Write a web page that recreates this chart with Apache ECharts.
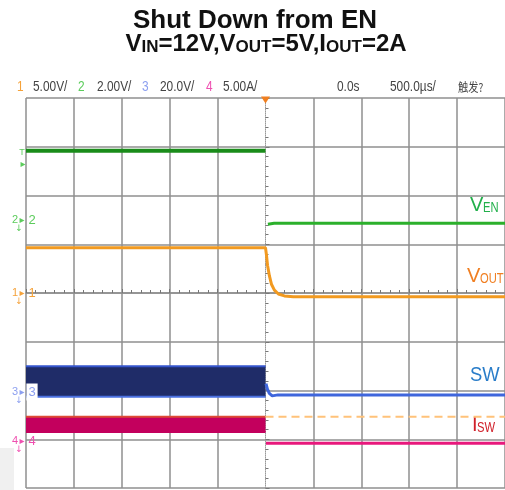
<!DOCTYPE html>
<html>
<head>
<meta charset="utf-8">
<title>Shut Down from EN</title>
<script src="https://cdn.jsdelivr.net/npm/echarts@6.0.0/dist/echarts.min.js"></script>
<style>
    html, body { margin: 0; padding: 0; background: #fff; }
    #scope { width: 505px; height: 490px; }
</style>
</head>
<body>
<div id="scope"></div>
<script>
// time in us (500us/div, trigger at 0), vertical in scope divisions (0 = screen centre)
var timeMin = -2500, timeMax = 2500, timeDiv = 500;
var divMin = -4, divMax = 4;

// channel header: [channel, scale]
var chScales = [['1', '5.00V/'], ['2', '2.00V/'], ['3', '20.0V/'], ['4', '5.00A/']];
var timeLabels = ['0.0s', '500.0\u00b5s/', '触发?'];

// CH2 EN
var enBefore = [[-2500, 2.92], [0, 2.92]];
var enAfter = [[25, 1.41], [90, 1.43], [2500, 1.43]];
// CH1 VOUT
var vout = [[-2500, 0.93], [0, 0.93], [10, 0.78], [21, 0.57], [41, 0.35], [62, 0.18], [93, 0.06],
    [135, -0.02], [197, -0.06], [290, -0.075], [2500, -0.075]];
// CH3 SW: switching envelope [t0, t1, top, bottom] then the tail
var swBurst = [[-2500, 0, -1.5, -2.13]];
var swAfter = [[5, -1.86], [20, -1.97], [40, -2.06], [70, -2.11], [130, -2.09], [2500, -2.09]];
// CH4 ISW
var iswBurst = [[-2500, 0, -2.54, -2.85]];
var iswAfter = [[5, -3.08], [2500, -3.08]];
// trigger level
var trigLevel = [[0, -2.54], [2500, -2.54]];

var chart = echarts.init(document.getElementById('scope'), null, {renderer: 'canvas'});

function trace(data, color, width, type) {
    return {
        type: 'line', data: data, symbol: 'none', showSymbol: false, silent: true, z: 3,
        lineStyle: {color: color, width: width, type: type || 'solid'}
    };
}

function burst(data, fill, edgeTop, edgeBottom) {
    return {
        type: 'custom', data: data, silent: true, z: 2,
        encode: {x: [0, 1], y: [2, 3]},
        renderItem: function (params, api) {
            var a = api.coord([api.value(0), api.value(2)]);
            var b = api.coord([api.value(1), api.value(3)]);
            return {
                type: 'group',
                children: [
                    {type: 'rect', shape: {x: a[0], y: a[1], width: b[0] - a[0], height: b[1] - a[1]}, style: {fill: fill}},
                    {type: 'line', shape: {x1: a[0], y1: a[1], x2: b[0], y2: a[1]}, style: {stroke: edgeTop, lineWidth: 2}},
                    {type: 'line', shape: {x1: a[0], y1: b[1], x2: b[0], y2: b[1]}, style: {stroke: edgeBottom, lineWidth: 2}}
                ]
            };
        }
    };
}

// grid colours, centre vertical line is drawn by the y axis line (dotted)
var xLineColors = [];
for (var i = 0; i <= (timeMax - timeMin) / timeDiv; i++) {
    xLineColors.push(timeMin + i * timeDiv === 0 ? 'rgba(0,0,0,0)' : '#8f8f8f');
}

var chColors = ['#f5a23a', '#5ccc5c', '#8c9ff0', '#ef4fb0'];
var graphics = [];

function txt(x, y, s, font, color, extra) {
    var el = {type: 'text', x: x, y: y, style: {text: s, font: font, fill: color, verticalAlign: 'middle'}};
    for (var k in extra) { el[k] = extra[k]; }
    return el;
}

// header row (scope font is narrow)
var hdrFont = '14px "Liberation Sans"';
var chX = [[17, 33], [78, 97], [142, 160], [206, 223]];
chScales.forEach(function (c, i) {
    graphics.push(txt(chX[i][0], 87, c[0], hdrFont, chColors[i], {scaleX: 0.85}));
    graphics.push(txt(chX[i][1], 87, c[1], hdrFont, '#444', {scaleX: 0.85}));
});
var tX = [337, 390, 458];
timeLabels.forEach(function (t, i) {
    graphics.push(txt(tX[i], 87, t, i === 2 ? '12px "Noto Sans CJK SC"' : hdrFont, '#444', {scaleX: 0.85}));
});

// title
graphics.push({type: 'text', x: 255, y: 21, style: {text: 'Shut Down from EN', font: 'bold 26px "Liberation Sans"', fill: '#111', align: 'center', verticalAlign: 'middle'}});
graphics.push({type: 'text', x: 266, y: 44, style: {
    text: '{b|V}{s|IN}{b|=12V,V}{s|OUT}{b|=5V,I}{s|OUT}{b|=2A}',
    align: 'center', verticalAlign: 'middle',
    rich: {
        b: {font: 'bold 24px "Liberation Sans"', fill: '#111', lineHeight: 24},
        s: {font: 'bold 17px "Liberation Sans"', fill: '#111', lineHeight: 14, verticalAlign: 'bottom'}
    }
}});

// trace names on the right: main letter + narrow subscript
function name(x, y, main, subX, sub, color) {
    graphics.push(txt(x, y, main, '20px "Liberation Sans"', color));
    if (sub) {
        graphics.push(txt(subX, y + 3, sub, '14px "Liberation Sans"', color, {scaleX: 0.8}));
    }
}
name(470, 205, 'V', 483, 'EN', '#22b04b');
name(467, 276, 'V', 480, 'OUT', '#f07f22');
graphics.push(txt(470, 375, 'SW', '20px "Liberation Sans"', '#2a7dc9', {scaleX: 0.92}));
name(472, 425, 'I', 477, 'SW', '#d0202a');

// channel ground markers on the left
function chMark(ch, y, color, boxed) {
    graphics.push({type: 'text', x: 15, y: y, style: {text: ch, font: '11px "Liberation Sans"', fill: color, align: 'center', verticalAlign: 'middle'}});
    graphics.push({type: 'text', x: 22, y: y, style: {text: '\u25b8', font: '10px "DejaVu Sans"', fill: color, align: 'center', verticalAlign: 'middle'}});
    graphics.push({type: 'text', x: 19, y: y + 9, style: {text: '\u2193', font: '9px "DejaVu Sans"', fill: color, align: 'center', verticalAlign: 'middle'}});
    graphics.push({type: 'text', x: 32, y: y, z: 10, style: {text: ch, font: '13px "Liberation Sans"', fill: color, align: 'center', verticalAlign: 'middle',
        backgroundColor: boxed ? '#fff' : 'transparent', padding: boxed ? [2, 2] : 0}});
}
chMark('2', 220, chColors[1], false);
chMark('1', 293, chColors[0], false);
chMark('3', 392, chColors[2], true);
chMark('4', 441, chColors[3], false);
graphics.push({type: 'text', x: 22, y: 153, style: {text: 'T', font: '9px "Liberation Sans"', fill: chColors[1], align: 'center', verticalAlign: 'middle'}});
graphics.push({type: 'text', x: 23, y: 164, style: {text: '\u25b8', font: '10px "DejaVu Sans"', fill: chColors[1], align: 'center', verticalAlign: 'middle'}});
graphics.push({type: 'rect', shape: {x: 0, y: 448, width: 14, height: 42}, style: {fill: '#f0f0f0'}});

var option = {
    animation: false,
    backgroundColor: '#fff',
    grid: {left: 26, top: 98, width: 482, height: 390, containLabel: false},
    xAxis: {
        type: 'value', min: timeMin, max: timeMax, interval: timeDiv,
        axisLabel: {show: false},
        axisLine: {show: true, onZero: true, lineStyle: {color: '#8f8f8f', width: 1.5}},
        axisTick: {show: true, inside: true, length: 4, lineStyle: {color: '#777'}},
        minorTick: {show: true, splitNumber: 5, length: 3, lineStyle: {color: '#777'}},
        splitLine: {show: true, lineStyle: {color: xLineColors, width: 1.5}}
    },
    yAxis: {
        type: 'value', min: divMin, max: divMax, interval: 1,
        axisLabel: {show: false},
        axisLine: {show: true, onZero: true, lineStyle: {color: '#9a9a9a', width: 1, type: 'dotted'}},
        axisTick: {show: true, inside: true, length: 4, lineStyle: {color: '#777'}},
        minorTick: {show: true, splitNumber: 5, length: 3, lineStyle: {color: '#777'}},
        splitLine: {show: true, lineStyle: {color: '#8f8f8f', width: 1.5}}
    },
    graphic: graphics,
    series: [
        burst(swBurst, '#1f2c68', '#3555cc', '#4a70e0'),
        burst(iswBurst, '#c3005d', '#dd4a35', '#c3005d'),
        trace(enBefore, '#1a8c1a', 4),
        trace(enAfter, '#2bb02b', 3),
        trace(vout, '#f29a20', 3),
        trace(swAfter, '#3f66dc', 3),
        trace(iswAfter, '#e8187c', 3),
        (function () {
            var s = trace(trigLevel, '#ffc27a', 2, [8, 5]);
            s.markPoint = {
                silent: true,
                data: [{coord: [0, divMax], symbol: 'triangle', symbolRotate: 180, symbolSize: [9, 7], symbolOffset: [0, 2],
                    itemStyle: {color: '#f07f20'}, label: {show: false}}]
            };
            return s;
        })()
    ]
};
chart.setOption(option);
</script>
</body>
</html>
